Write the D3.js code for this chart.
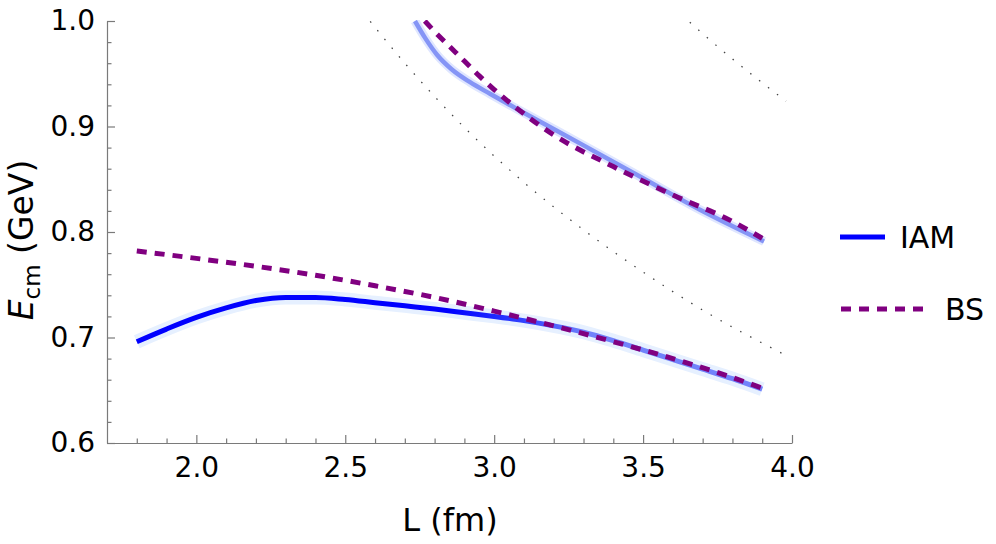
<!DOCTYPE html>
<html>
<head>
<meta charset="utf-8">
<title>IAM vs BS energy levels</title>
<script src="https://cdn.jsdelivr.net/npm/d3@7"></script>
<style>
body{margin:0;background:#fff;}
text{font-family:"DejaVu Sans",sans-serif;fill:#000;}
</style>
</head>
<body>
<svg width="996" height="544"></svg>
<script>
// values: [L (fm), E_cm (GeV)]
var iamLower = [[1.8,0.696],[1.9,0.708],[2.0,0.719],[2.1,0.728],[2.2,0.735],[2.3,0.738],[2.4,0.738],
                [2.5,0.736],[2.6,0.733],[2.7,0.730],[2.8,0.727],[2.9,0.7235],[3.0,0.720],[3.1,0.716],
                [3.2,0.711],[3.3,0.705],[3.4,0.697],[3.5,0.688],[3.6,0.679],[3.7,0.670],[3.8,0.661],[3.9,0.651]];
var iamUpper = [[2.734,1.0],[2.768,0.984],[2.808,0.968],[2.858,0.954],[2.919,0.942],[2.986,0.931],
                [3.087,0.915],[3.288,0.884],[3.5,0.851],[3.691,0.821],[3.906,0.791]];
var bsLower = [[1.8,0.782],[2.0,0.775],[2.2,0.7675],[2.4,0.759],[2.6,0.749],[2.8,0.738],[3.0,0.725],
               [3.2,0.711],[3.4,0.696],[3.6,0.680],[3.8,0.662],[3.9,0.652]];
var bsUpper = [[2.767,1.0],[2.8,0.99],[2.85,0.976],[2.9,0.962],[2.95,0.948],[3.0,0.935],[3.1,0.912],
               [3.2,0.892],[3.4,0.862],[3.6,0.835],[3.8,0.810],[3.9,0.794]];
// free two-particle levels (dotted)
var freeLevel1 = [[2.56,1.008],[2.7,0.960],[2.9,0.899],[3.1,0.847],[3.3,0.802],[3.5,0.762],[3.7,0.726],[3.98,0.683]];
var freeLevel2 = [[3.6,1.013],[3.8,0.964],[3.98,0.924]];

var xMajor = [2.0,2.5,3.0,3.5,4.0];
var yMajor = [0.6,0.7,0.8,0.9,1.0];
var legendNames = ["IAM","BS"];

var svg = d3.select("svg");
svg.append("rect").attr("width",996).attr("height",544).attr("fill","#fff");

var x = d3.scaleLinear().domain([1.7,4.0]).range([107,792]);
var y = d3.scaleLinear().domain([0.6,1.0]).range([443,21]);

var xMinor = d3.range(18,40).map(function(d){return d/10;}).filter(function(d){return xMajor.indexOf(d)<0;});
var yMinor = d3.range(30,50).map(function(d){return d/50;}).filter(function(d){
	return !yMajor.some(function(m){return Math.abs(m-d)<1e-6;});
});

// axes
var axisColor = "#7a7a7a";
function styleAxis(g){
	g.selectAll(".domain").attr("stroke",axisColor).attr("stroke-width",1.2);
	g.selectAll(".tick line").attr("stroke",axisColor).attr("stroke-width",1.2);
	g.selectAll(".tick text").attr("font-size",28).attr("fill","#000").attr("font-family","DejaVu Sans");
}

svg.append("g").attr("transform","translate(0,443)")
   .call(d3.axisBottom(x).tickValues(xMinor).tickFormat("").tickSizeInner(-4.5).tickSizeOuter(0))
   .call(styleAxis).select(".domain").remove();
svg.append("g").attr("transform","translate(0,443)")
   .call(d3.axisBottom(x).tickValues(xMajor).tickFormat(d3.format(".1f")).tickSizeInner(-8).tickSizeOuter(0).tickPadding(14))
   .call(styleAxis);

svg.append("g").attr("transform","translate(107,0)")
   .call(d3.axisLeft(y).tickValues(yMinor).tickFormat("").tickSizeInner(-4.5).tickSizeOuter(0))
   .call(styleAxis).select(".domain").remove();
svg.append("g").attr("transform","translate(107,0)")
   .call(d3.axisLeft(y).tickValues(yMajor).tickFormat(d3.format(".1f")).tickSizeInner(-8).tickSizeOuter(0).tickPadding(12))
   .call(styleAxis);

// clip
var defs = svg.append("defs");
defs.append("clipPath").attr("id","plot").append("rect")
    .attr("x",107).attr("y",20).attr("width",792-107).attr("height",443-20);

var grad = defs.append("linearGradient").attr("id","iamfade")
    .attr("gradientUnits","userSpaceOnUse")
    .attr("x1",x(1.8)).attr("x2",x(3.9)).attr("y1",0).attr("y2",0);
grad.append("stop").attr("offset","0%").attr("stop-color","#0000ff");
grad.append("stop").attr("offset","50%").attr("stop-color","#0000ff");
grad.append("stop").attr("offset","62%").attr("stop-color","#3344ff");
grad.append("stop").attr("offset","72%").attr("stop-color","#7183fb");
grad.append("stop").attr("offset","100%").attr("stop-color","#7183fb");

var line = d3.line()
	.x(function(d){return x(d[0]);})
	.y(function(d){return y(d[1]);})
	.curve(d3.curveMonotoneX);

var plot = svg.append("g").attr("clip-path","url(#plot)").attr("fill","none");

// dotted free levels
plot.selectAll("path.free").data([freeLevel1,freeLevel2]).enter().append("path")
	.attr("class","free").attr("d",line)
	.attr("stroke","#444").attr("stroke-width",1.3).attr("stroke-dasharray","1.5,9.8");

// IAM uncertainty bands
plot.append("path").attr("d",line(iamLower)).attr("stroke","#e6f0ff").attr("stroke-width",14).attr("stroke-linecap","butt");
plot.append("path").attr("d",line(iamUpper)).attr("stroke","#dfe6ff").attr("stroke-width",9);

// IAM lines
plot.append("path").attr("d",line(iamLower)).attr("stroke","url(#iamfade)").attr("stroke-width",5);
plot.append("path").attr("d",line(iamUpper)).attr("stroke","#8595f6").attr("stroke-width",4.5);

// BS dashed
plot.selectAll("path.bs").data([bsLower,bsUpper]).enter().append("path")
	.attr("class","bs").attr("d",line)
	.attr("stroke","#800080").attr("stroke-width",5).attr("stroke-dasharray","10,8");

// legend
var legend = svg.append("g");
legend.append("line").attr("x1",840).attr("x2",885).attr("y1",237).attr("y2",237)
	.attr("stroke","#0000ff").attr("stroke-width",5);
legend.append("line").attr("x1",841).attr("x2",924).attr("y1",309).attr("y2",309)
	.attr("stroke","#800080").attr("stroke-width",5).attr("stroke-dasharray","10,8");
legend.selectAll("text").data(legendNames).enter().append("text")
	.attr("x",function(d,i){return i===0?900:945;})
	.attr("y",function(d,i){return i===0?237:309;})
	.attr("dy","0.36em").attr("font-size",30)
	.text(function(d){return d;});

// axis titles
svg.append("text").attr("x",450).attr("y",531).attr("text-anchor","middle")
	.attr("font-size",32).text("L (fm)");

var yt = svg.append("text").attr("transform","translate(33,240) rotate(-90)")
	.attr("text-anchor","middle").attr("font-size",33);
yt.append("tspan").attr("font-style","italic").text("E");
yt.append("tspan").attr("font-size",23).attr("dy",7).text("cm");
yt.append("tspan").attr("dy",-7).text(" (GeV)");
</script>
</body>
</html>
